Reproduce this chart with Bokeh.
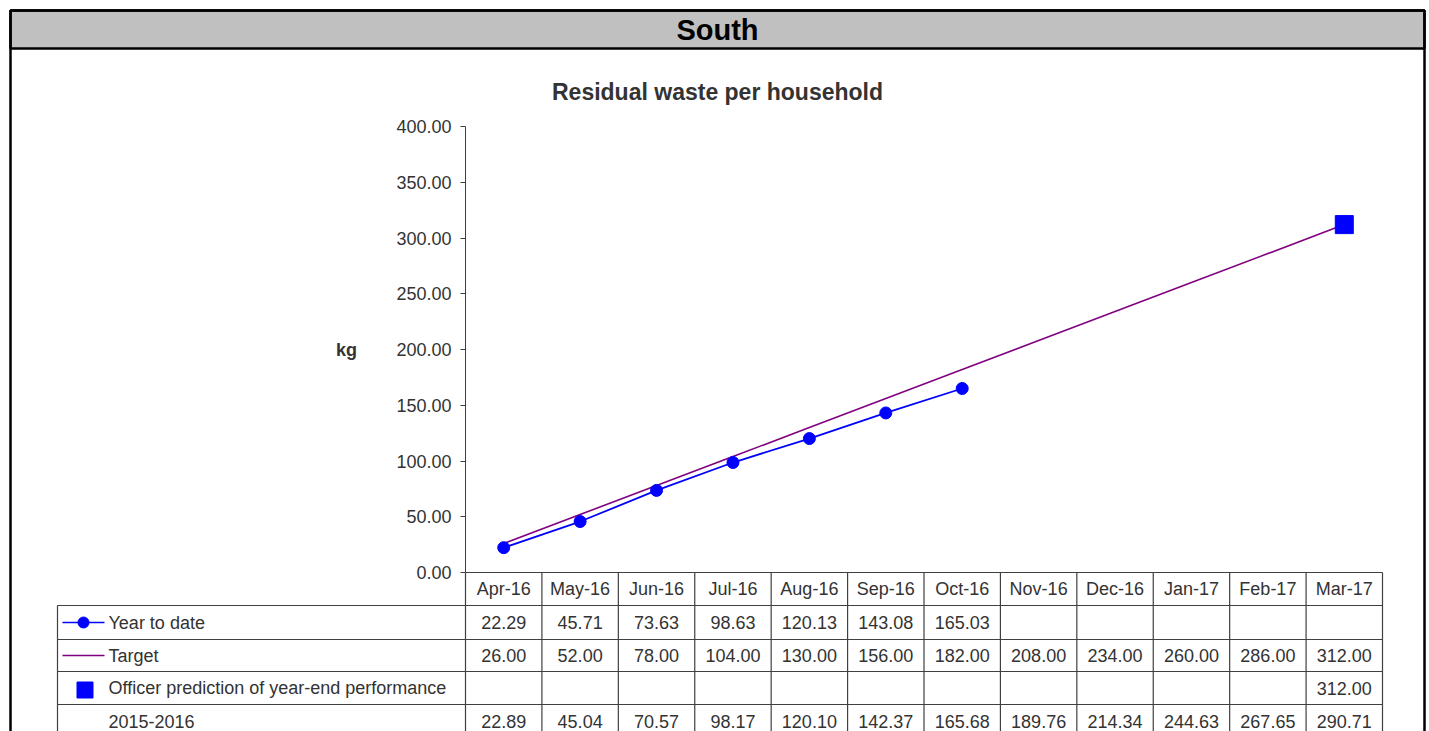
from bokeh.plotting import figure
from bokeh.models import (Range1d, FixedTicker, NumeralTickFormatter, LinearAxis,
                          ColumnDataSource)
from bokeh.core.properties import value
from bokeh.embed import file_html
from bokeh.resources import INLINE
import numpy as np

# ---------------- data ----------------
months = ["Apr-16", "May-16", "Jun-16", "Jul-16", "Aug-16", "Sep-16",
          "Oct-16", "Nov-16", "Dec-16", "Jan-17", "Feb-17", "Mar-17"]
year_to_date = [22.29, 45.71, 73.63, 98.63, 120.13, 143.08, 165.03,
                None, None, None, None, None]
target = [26.00, 52.00, 78.00, 104.00, 130.00, 156.00, 182.00,
          208.00, 234.00, 260.00, 286.00, 312.00]
prediction = [None, None, None, None, None, None, None,
              None, None, None, None, 312.00]
prev_year = [22.89, 45.04, 70.57, 98.17, 120.10, 142.37, 165.68,
             189.76, 214.34, 244.63, 267.65, 290.71]
row_names = ["Year to date", "Target",
             "Officer prediction of year-end performance", "2015-2016"]
y_ticks = [0, 50, 100, 150, 200, 250, 300, 350, 400]

panel_title = "South"
chart_title = "Residual waste per household"
y_unit = "kg"

# ---------------- layout (page pixels) ----------------
W, H = 1429, 731
FL, FR, FT, FB = 465, 1382, 126, 572       # chart area on the page
Y0, Y1 = 0, 400                            # value extent of the chart area
BOX_L, BOX_R, BOX_T, BAR_B = 10, 1424, 10, 48
TABLE_L = 57
row_edges = [572, 605, 639, 671, 704, 737]
FONT = "Liberation Sans"
TXT = "#333333"
GRID = "#404040"
BLUE = "#0000ff"
PURPLE = "#800080"
FS = "18px"

n = len(months)
colw = (FR - FL) / n
ppu = (FB - FT) / (Y1 - Y0)
x_range = Range1d(-0.5 - FL / colw, n - 0.5 + (W - FR) / colw)
y_range = Range1d(Y0 - (H - FB) / ppu, Y1 + FT / ppu)

idx = list(range(n))
ytd = np.array([np.nan if v is None else v for v in year_to_date], dtype=float)
pred = np.array([np.nan if v is None else v for v in prediction], dtype=float)

p = figure(width=W, height=H, output_backend="svg", toolbar_location=None,
           x_range=x_range, y_range=y_range,
           x_axis_location=None, y_axis_location=None,
           min_border=0)
p.extra_x_ranges = {"px": Range1d(0, W)}
p.extra_y_ranges = {"py": Range1d(H, 0)}
p.grid.visible = False
p.outline_line_color = None
p.background_fill_color = "white"
p.border_fill_color = "white"

ax = LinearAxis(fixed_location=-0.5, bounds=(Y0, Y1))
ax.ticker = FixedTicker(ticks=y_ticks)
ax.formatter = NumeralTickFormatter(format="0.00")
ax.major_label_text_font = FONT
ax.major_label_text_font_size = FS
ax.major_label_text_color = TXT
ax.axis_line_color = GRID
ax.major_tick_line_color = GRID
ax.major_tick_out = 5
ax.major_tick_in = 0
ax.minor_tick_line_color = None
ax.major_label_standoff = 9
p.add_layout(ax, "left")

PG = dict(x_range_name="px", y_range_name="py")

# ---------------- frame decoration ----------------
p.quad(left=[BOX_L], right=[BOX_R], top=[BOX_T], bottom=[BAR_B], fill_color="#c0c0c0",
       line_color="black", line_width=2.5, **PG)
p.quad(left=[BOX_L], right=[BOX_R], top=[BOX_T], bottom=[H + 60], fill_color=None,
       line_color="black", line_width=2.5, **PG)

def label(text, x, y, size, bold=False, color=TXT):
    p.text(x=[x], y=[y], text=[text], text_font=value(FONT), text_font_size=value(size),
           text_font_style="bold" if bold else "normal", text_color=color,
           text_align="center", text_baseline="middle", **PG)

label(panel_title, (BOX_L + BOX_R) / 2, 29.5, "29px", bold=True, color="black")
label(chart_title, (BOX_L + BOX_R) / 2, 91, "23px", bold=True)
label(y_unit, 346, 349, "18px", bold=True)

# ---------------- table grid ----------------
hx0 = [FL if i == 0 else TABLE_L for i in range(len(row_edges))]
hx1 = [FR] * len(row_edges)
p.segment(x0=hx0, x1=hx1, y0=row_edges, y1=row_edges, line_color=GRID, line_width=1.2, **PG)
p.segment(x0=[TABLE_L], x1=[TABLE_L], y0=[row_edges[1]], y1=[H + 60],
          line_color=GRID, line_width=1.2, **PG)
vx = [i - 0.5 for i in range(n + 1)]
p.segment(x0=vx, x1=vx, y0=[row_edges[0]] * len(vx), y1=[H + 60] * len(vx),
          line_color=GRID, line_width=1.2, y_range_name="py")

# ---------------- chart glyphs ----------------
p.line(idx, target, line_color=PURPLE, line_width=1.6)
p.line(idx, ytd, line_color=BLUE, line_width=1.8)
p.scatter(idx, ytd, marker="circle", size=12, fill_color=BLUE, line_color=BLUE)
p.scatter(idx, pred, marker="square", size=18, fill_color=BLUE, line_color=BLUE)

# ---------------- table texts ----------------
centers = [(row_edges[k] + row_edges[k + 1]) / 2 for k in range(len(row_edges) - 1)]
tx, ty, tt = [], [], []
for i, m in enumerate(months):
    tx.append(i); ty.append(centers[0]); tt.append(m)
for r, series in enumerate([year_to_date, target, prediction, prev_year]):
    for i, v in enumerate(series):
        if v is not None:
            tx.append(i); ty.append(centers[r + 1]); tt.append(f"{v:.2f}")
p.text(x="x", y="y", text="t", source=ColumnDataSource(dict(x=tx, y=ty, t=tt)),
       text_font=value(FONT), text_font_size=value(FS), text_color=TXT,
       text_align="center", text_baseline="middle", y_range_name="py")
p.text(x=[108] * len(row_names), y=centers[1:], text=row_names,
       text_font=value(FONT), text_font_size=value(FS), text_color=TXT,
       text_align="left", text_baseline="middle", **PG)

# legend icons
lx0, lx1 = 62, 104
p.segment(x0=[lx0, lx0], x1=[lx1, lx1], y0=centers[1:3], y1=centers[1:3],
          line_color=[BLUE, PURPLE], line_width=1.5, **PG)
p.scatter(x=[(lx0 + lx1) / 2], y=[centers[1]], marker="circle", size=11,
          fill_color=BLUE, line_color=BLUE, **PG)
p.scatter(x=[84.5], y=[centers[3] + 2], marker="square", size=16,
          fill_color=BLUE, line_color=BLUE, **PG)

open("out.html", "w").write(file_html(p, INLINE))
